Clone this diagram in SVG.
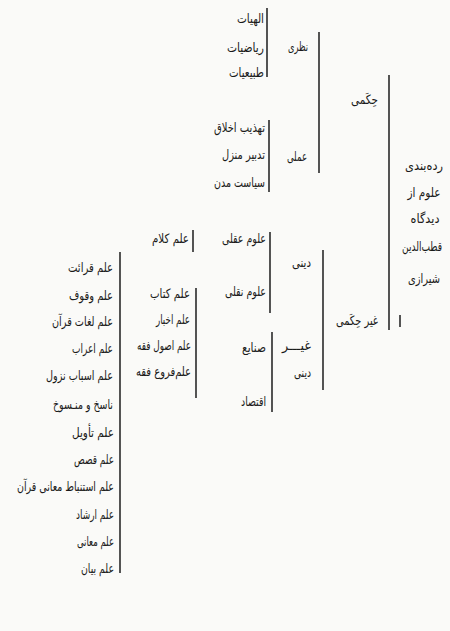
<svg xmlns="http://www.w3.org/2000/svg" width="450" height="631" viewBox="0 0 450 631">
<style>
text{font-family:"DejaVu Sans","Noto Sans",sans-serif;font-size:13px;fill:#1a1a1a;text-anchor:end}
text.c{text-anchor:middle}
.br{stroke:#2a2a2a;stroke-width:1.6;fill:none}
</style>
<rect width="450" height="631" fill="#fafaf8"/>
<g id="connectors">
<line class="br" x1="267" y1="8" x2="267" y2="77"/>
<line class="br" x1="319" y1="32" x2="319" y2="173"/>
<line class="br" x1="269" y1="120" x2="269" y2="192"/>
<line class="br" x1="389" y1="75" x2="389" y2="330"/>
<line class="br" x1="400" y1="315" x2="400" y2="327"/>
<line class="br" x1="323" y1="250" x2="323" y2="390"/>
<line class="br" x1="270" y1="232" x2="270" y2="313"/>
<line class="br" x1="272" y1="332" x2="272" y2="412"/>
<line class="br" x1="193" y1="230" x2="193" y2="252"/>
<line class="br" x1="196" y1="288" x2="196" y2="398"/>
<line class="br" x1="120" y1="252" x2="120" y2="573"/>
</g>
<g id="root"><text class="c" x="424" y="170" textLength="38" lengthAdjust="spacingAndGlyphs">رده‌بندی</text>
<text class="c" x="424" y="197" textLength="33" lengthAdjust="spacingAndGlyphs">علوم از</text>
<text class="c" x="425" y="223" textLength="29" lengthAdjust="spacingAndGlyphs">دیدگاه</text>
<text x="442" y="251" textLength="40" lengthAdjust="spacingAndGlyphs">قطب‌الدین</text>
<text class="c" x="424" y="283" textLength="32" lengthAdjust="spacingAndGlyphs">شیرازی</text></g>
<g id="hekami"><text x="378" y="104" textLength="27" lengthAdjust="spacingAndGlyphs">حِکَمی</text></g>
<g id="ghair-hekami"><text x="378" y="325" textLength="42" lengthAdjust="spacingAndGlyphs">غیر حِکَمی</text></g>
<g id="nazari"><text x="308" y="51" textLength="20" lengthAdjust="spacingAndGlyphs">نظری</text></g>
<g id="amali"><text x="307" y="161" textLength="20" lengthAdjust="spacingAndGlyphs">عملی</text></g>
<g id="elahiat"><text x="264" y="23" textLength="27" lengthAdjust="spacingAndGlyphs">الهیات</text></g>
<g id="riazi"><text x="264" y="52" textLength="37" lengthAdjust="spacingAndGlyphs">ریاضیات</text></g>
<g id="tabiat"><text x="264" y="77" textLength="35" lengthAdjust="spacingAndGlyphs">طبیعیات</text></g>
<g id="akhlagh"><text x="265" y="132" textLength="51" lengthAdjust="spacingAndGlyphs">تهذیب اخلاق</text></g>
<g id="manzel"><text x="265" y="159" textLength="43" lengthAdjust="spacingAndGlyphs">تدبیر منزل</text></g>
<g id="modon"><text x="265" y="187" textLength="51" lengthAdjust="spacingAndGlyphs">سیاست مدن</text></g>
<g id="dini"><text x="311" y="267" textLength="19" lengthAdjust="spacingAndGlyphs">دینی</text></g>
<g id="ghair-dini"><text x="311" y="350" textLength="29" lengthAdjust="spacingAndGlyphs">غیـــر</text>
<text x="311" y="377" textLength="17" lengthAdjust="spacingAndGlyphs">دینی</text></g>
<g id="aghli"><text x="266" y="243" textLength="44" lengthAdjust="spacingAndGlyphs">علوم عقلی</text></g>
<g id="naghli"><text x="266" y="296" textLength="41" lengthAdjust="spacingAndGlyphs">علوم نقلی</text></g>
<g id="sanaye"><text x="266" y="352" textLength="24" lengthAdjust="spacingAndGlyphs">صنایع</text></g>
<g id="eghtesad"><text x="266" y="406" textLength="25" lengthAdjust="spacingAndGlyphs">اقتصاد</text></g>
<g id="kalam"><text x="189" y="243" textLength="37" lengthAdjust="spacingAndGlyphs">علم کلام</text></g>
<g id="ketab"><text x="190" y="298" textLength="40" lengthAdjust="spacingAndGlyphs">علم کتاب</text></g>
<g id="akhbar"><text x="190" y="324" textLength="34" lengthAdjust="spacingAndGlyphs">علم اخبار</text></g>
<g id="osul"><text x="191" y="350" textLength="54" lengthAdjust="spacingAndGlyphs">علم اصول فقه</text></g>
<g id="foru"><text x="191" y="376" textLength="55" lengthAdjust="spacingAndGlyphs">علم‌فروع فقه</text></g>
<g id="gheraat"><text x="113" y="272" textLength="45" lengthAdjust="spacingAndGlyphs">علم قرائت</text></g>
<g id="voghuf"><text x="113" y="300" textLength="44" lengthAdjust="spacingAndGlyphs">علم وقوف</text></g>
<g id="loghat"><text x="113" y="326" textLength="61" lengthAdjust="spacingAndGlyphs">علم لغات قرآن</text></g>
<g id="erab"><text x="113" y="353" textLength="41" lengthAdjust="spacingAndGlyphs">علم اعراب</text></g>
<g id="nozul"><text x="113" y="380" textLength="67" lengthAdjust="spacingAndGlyphs">علم اسباب نزول</text></g>
<g id="nasekh"><text x="113" y="409" textLength="60" lengthAdjust="spacingAndGlyphs">ناسخ و منـسوخ</text></g>
<g id="tavil"><text x="114" y="437" textLength="42" lengthAdjust="spacingAndGlyphs">علم تأویل</text></g>
<g id="ghesas"><text x="114" y="464" textLength="40" lengthAdjust="spacingAndGlyphs">علم قصص</text></g>
<g id="estenbat"><text x="114" y="491" textLength="97" lengthAdjust="spacingAndGlyphs">علم استنباط معانی قرآن</text></g>
<g id="ershad"><text x="114" y="519" textLength="38" lengthAdjust="spacingAndGlyphs">علم ارشاد</text></g>
<g id="maani"><text x="114" y="546" textLength="37" lengthAdjust="spacingAndGlyphs">علم معانی</text></g>
<g id="bayan"><text x="114" y="573" textLength="33" lengthAdjust="spacingAndGlyphs">علم بیان</text></g>
</svg>
